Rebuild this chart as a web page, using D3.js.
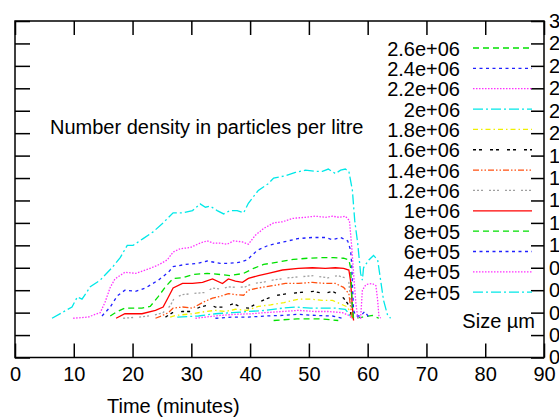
<!DOCTYPE html>
<html>
<head>
<meta charset="utf-8">
<script src="https://cdn.jsdelivr.net/npm/d3@7"></script>
<style>
  body { margin: 0; background: #fff; }
  svg { display: block; font-family: 'Liberation Sans', Arial, Helvetica, sans-serif; }
</style>
</head>
<body>
<div id="container"></div>
<script>
// time in minutes, density (in y2 units 0..3)
const xTicks = [0, 10, 20, 30, 40, 50, 60, 70, 80, 90];
const yTicks = [0, 0.2, 0.4, 0.6, 0.8, 1, 1.2, 1.4, 1.6, 1.8, 2, 2.2, 2.4, 2.6, 2.8, 3];

const sizes = ['2.6e+06', '2.4e+06', '2.2e+06', '2e+06', '1.8e+06', '1.6e+06', '1.4e+06',
  '1.2e+06', '1e+06', '8e+05', '6e+05', '4e+05', '2e+05'];

const s26e5 = [[44, 0.33], [48, 0.345], [52, 0.345], [55, 0.33]];
const s24e5 = [[34.1, 0.35], [37.0, 0.36], [39.7, 0.36], [42.6, 0.37], [45.5, 0.375], [48.2, 0.385],
  [51.1, 0.375], [54.0, 0.37], [55.7, 0.35]];
const s22e5 = [[30.7, 0.35], [32.4, 0.36], [34.9, 0.375], [37.5, 0.385], [40.1, 0.39], [42.6, 0.40],
  [45.5, 0.41], [48.2, 0.42], [51.1, 0.41], [53.3, 0.41], [55.7, 0.40], [56.8, 0.375], [57.3, 0.35]];
const s20e5 = [[27.6, 0.36], [31.2, 0.37], [34.1, 0.39], [37.0, 0.40], [39.7, 0.41], [42.6, 0.42],
  [45.5, 0.44], [47.7, 0.45], [50.3, 0.44], [52.3, 0.44], [54.5, 0.44], [56.2, 0.43], [56.8, 0.39], [57.3, 0.35]];
const s18e5 = [[26.4, 0.36], [27.3, 0.375], [30.2, 0.39], [32.4, 0.41], [34.1, 0.42], [35.8, 0.41],
  [37.5, 0.43], [39.5, 0.42], [41.4, 0.455], [43.5, 0.47], [45.8, 0.49], [48.2, 0.52], [50.3, 0.52],
  [52.3, 0.51], [54.0, 0.51], [55.7, 0.47], [56.6, 0.45], [57.1, 0.39], [57.4, 0.35]];
const s16e5 = [[25.6, 0.36], [26.8, 0.40], [28.5, 0.41], [29.8, 0.41], [31.5, 0.45], [33.2, 0.47],
  [34.1, 0.45], [35.5, 0.45], [37.2, 0.48], [38.4, 0.45], [39.7, 0.44], [41.8, 0.50], [44.0, 0.55],
  [46.4, 0.57], [48.6, 0.58], [50.8, 0.59], [52.5, 0.57], [54.0, 0.59], [55.1, 0.56], [55.9, 0.53],
  [56.6, 0.48], [57.1, 0.40], [57.4, 0.35]];
const s14e5 = [[23.9, 0.35], [25.1, 0.375], [26.1, 0.40], [26.9, 0.44], [28.5, 0.45], [30.2, 0.44],
  [31.9, 0.49], [33.6, 0.53], [34.9, 0.545], [36.3, 0.57], [37.5, 0.56], [38.9, 0.555], [39.7, 0.60],
  [41.4, 0.62], [43.8, 0.64], [46.0, 0.66], [48.2, 0.66], [50.6, 0.67], [52.8, 0.66], [54.5, 0.66],
  [55.9, 0.625], [56.8, 0.57], [57.1, 0.45], [57.4, 0.35]];
const s12e5 = [[18.4, 0.35], [21.0, 0.36], [23.4, 0.375], [25.2, 0.40], [26.4, 0.46], [27.1, 0.53],
  [28.5, 0.56], [30.2, 0.57], [32.4, 0.58], [33.6, 0.62], [34.9, 0.61], [36.3, 0.63], [37.8, 0.625],
  [39.2, 0.63], [40.4, 0.66], [42.1, 0.67], [43.8, 0.69], [46.4, 0.71], [48.6, 0.72], [50.8, 0.73],
  [53.2, 0.71], [54.9, 0.73], [56.2, 0.71], [56.8, 0.67], [57.1, 0.51], [57.4, 0.375]];
const s10e5 = [[17.2, 0.35], [18.7, 0.39], [21.6, 0.39], [23.9, 0.42], [25.2, 0.45], [26.1, 0.54],
  [26.9, 0.62], [28.5, 0.66], [30.2, 0.66], [31.9, 0.67], [33.6, 0.70], [35.3, 0.66], [36.3, 0.70],
  [37.5, 0.68], [38.7, 0.67], [39.7, 0.705], [41.4, 0.73], [43.1, 0.75], [45.5, 0.78], [48.2, 0.795],
  [50.6, 0.80], [52.8, 0.795], [54.5, 0.80], [55.9, 0.795], [56.8, 0.78], [57.1, 0.68], [57.4, 0.45],
  [57.6, 0.33]];
const s8e5 = [[16.2, 0.37], [17.4, 0.41], [18.7, 0.44], [21.6, 0.44], [23.0, 0.455], [24.4, 0.545],
  [25.6, 0.63], [26.9, 0.705], [28.5, 0.71], [30.3, 0.74], [32.7, 0.75], [34.9, 0.74], [36.6, 0.73],
  [38.9, 0.75], [40.6, 0.795], [42.3, 0.83], [44.7, 0.85], [47.4, 0.875], [49.8, 0.885], [52.0, 0.89],
  [54.2, 0.89], [55.9, 0.885], [56.8, 0.87], [57.1, 0.80], [57.4, 0.45], [57.6, 0.35], [59.1, 0.36],
  [60.8, 0.375], [61.9, 0.35]];
const s6e5 = [[14.8, 0.37], [16.2, 0.45], [17.4, 0.55], [18.7, 0.60], [20.5, 0.59], [22.2, 0.62],
  [24.4, 0.69], [26.1, 0.76], [26.9, 0.81], [29.0, 0.83], [31.2, 0.84], [32.7, 0.86], [34.9, 0.84],
  [36.6, 0.84], [38.4, 0.85], [39.5, 0.87], [41.2, 0.955], [43.1, 1.0], [45.7, 1.03], [48.1, 1.06],
  [50.6, 1.07], [52.8, 1.07], [54.0, 1.05], [55.4, 1.07], [56.6, 1.04], [57.1, 0.955], [57.3, 0.82],
  [57.4, 0.66], [57.6, 0.42], [58.0, 0.37], [58.8, 0.37], [59.5, 0.41], [60.2, 0.36]];
const s4e5 = [[9.9, 0.35], [12.4, 0.36], [14.5, 0.40], [15.3, 0.49], [16.2, 0.625], [17.0, 0.70],
  [18.7, 0.76], [20.5, 0.75], [22.2, 0.78], [24.2, 0.82], [25.9, 0.87], [26.9, 0.94], [28.1, 0.97],
  [29.8, 0.98], [31.5, 1.02], [32.7, 1.04], [33.7, 1.02], [34.9, 1.02], [36.1, 1.01], [37.2, 1.04],
  [38.7, 1.03], [39.7, 1.01], [40.9, 1.09], [42.3, 1.15], [44.0, 1.20], [45.5, 1.21], [47.2, 1.24],
  [49.4, 1.25], [51.1, 1.26], [52.8, 1.25], [54.0, 1.26], [55.1, 1.25], [56.2, 1.26], [56.9, 1.22],
  [57.3, 0.98], [57.6, 0.75], [58.0, 0.48], [58.3, 0.36], [58.8, 0.35], [59.1, 0.60], [59.7, 0.65],
  [60.8, 0.66], [61.4, 0.64], [61.7, 0.51], [61.9, 0.375], [62.2, 0.35]];
const s2e5 = [[6.3, 0.35], [9.7, 0.45], [10.6, 0.54], [11.4, 0.52], [12.8, 0.63], [14.5, 0.69],
  [16.5, 0.80], [17.9, 0.89], [19.1, 1.0], [20.1, 1.0], [21.8, 1.06], [23.5, 1.12], [25.2, 1.20],
  [26.9, 1.29], [28.6, 1.29], [30.2, 1.31], [31.5, 1.37], [32.4, 1.34], [33.2, 1.35], [34.4, 1.31],
  [35.5, 1.28], [36.6, 1.31], [37.8, 1.31], [38.9, 1.29], [39.7, 1.375], [41.4, 1.49], [43.1, 1.55],
  [44.0, 1.60], [46.0, 1.62], [47.7, 1.65], [49.4, 1.67], [51.1, 1.66], [52.3, 1.66], [53.3, 1.68],
  [54.5, 1.64], [55.4, 1.67], [56.2, 1.68], [56.8, 1.66], [57.4, 1.49], [57.8, 1.22], [58.3, 1.02],
  [58.8, 0.75], [59.1, 0.69], [59.3, 0.80], [60.2, 0.87], [61.0, 0.91], [61.7, 0.87], [62.2, 0.69],
  [62.7, 0.51], [63.4, 0.375], [63.9, 0.35]];

const series = [s26e5, s24e5, s22e5, s20e5, s18e5, s16e5, s14e5, s12e5, s10e5, s8e5, s6e5, s4e5, s2e5];

// gnuplot-ish line types, same order as the key
const lineTypes = [
  { color: '#00e000', dash: '6,4' },
  { color: '#2020ff', dash: '3,3.5' },
  { color: '#ff30ff', dash: '1.5,1.5' },
  { color: '#00e8e8', dash: '10,3,2,3' },
  { color: '#f0f000', dash: '5,3,1.5,3' },
  { color: '#000000', dash: '3,3,3,8' },
  { color: '#ff5010', dash: '6,2,1.5,2,1.5,2' },
  { color: '#a0a0a0', dash: '2,2,2,2,2,6' },
  { color: '#ff0000', dash: null },
  { color: '#00e000', dash: '6,4' },
  { color: '#2020ff', dash: '3,3.5' },
  { color: '#ff30ff', dash: '1.5,1.5' },
  { color: '#00e8e8', dash: '10,3,2,3' },
];

const width = 559;
const height = 417;

const svg = d3.select('#container')
  .append('svg')
  .attr('width', width)
  .attr('height', height);

const x = d3.scaleLinear().domain([0, 90]).range([15, 544]);
const y = d3.scaleLinear().domain([0, 3]).range([357.5, 21]);

const line = d3.line()
  .x(d => x(d[0]))
  .y(d => y(d[1]));

// curves
svg.append('g')
  .selectAll('path')
  .data(series)
  .enter()
  .append('path')
  .attr('d', line)
  .attr('fill', 'none')
  .attr('stroke', (d, i) => lineTypes[i].color)
  .attr('stroke-width', 1.3)
  .attr('stroke-dasharray', (d, i) => lineTypes[i].dash);

// axes, ticks pointing inward
function styleAxis(g, labels) {
  g.select('.domain').remove();
  g.selectAll('.tick line').attr('stroke', '#000').attr('stroke-width', 1.5);
  g.attr('font-size', 20).attr('font-family', null);
  g.selectAll('.tick text').attr('fill', '#000');
}

svg.append('g')
  .attr('transform', `translate(0,${y(0)})`)
  .call(d3.axisBottom(x).tickValues(xTicks).tickSizeInner(-14).tickSizeOuter(0).tickPadding(9))
  .call(styleAxis);

svg.append('g')
  .attr('transform', `translate(0,${y(3)})`)
  .call(d3.axisTop(x).tickValues(xTicks).tickSizeInner(-14).tickSizeOuter(0).tickFormat(''))
  .call(styleAxis);

svg.append('g')
  .attr('transform', `translate(${x(0)},0)`)
  .call(d3.axisLeft(y).tickValues(yTicks).tickSizeInner(-15).tickSizeOuter(0).tickFormat(''))
  .call(styleAxis);

svg.append('g')
  .attr('transform', `translate(${x(90)},0)`)
  .call(d3.axisRight(y).tickValues(yTicks).tickSizeInner(-13).tickSizeOuter(0).tickPadding(5)
    .tickFormat(d3.format('~g')))
  .call(styleAxis);

svg.append('rect')
  .attr('x', x(0))
  .attr('y', y(3))
  .attr('width', x(90) - x(0))
  .attr('height', y(0) - y(3))
  .attr('fill', 'none')
  .attr('stroke', '#000')
  .attr('stroke-width', 1.5);

// key
const key = svg.append('g')
  .selectAll('g')
  .data(sizes)
  .enter()
  .append('g')
  .attr('transform', (d, i) => `translate(0,${48 + i * 20.35})`);

key.append('text')
  .attr('x', 460)
  .attr('y', 7.5)
  .attr('text-anchor', 'end')
  .attr('font-size', 20)
  .text(d => d);

key.append('line')
  .attr('x1', 473)
  .attr('x2', 532)
  .attr('stroke', (d, i) => lineTypes[i].color)
  .attr('stroke-width', 1.3)
  .attr('stroke-dasharray', (d, i) => lineTypes[i].dash);

svg.append('text')
  .attr('x', 535)
  .attr('y', 328)
  .attr('text-anchor', 'end')
  .attr('font-size', 20)
  .text('Size µm');

svg.append('text')
  .attr('x', 50)
  .attr('y', 133.5)
  .attr('font-size', 20)
  .text('Number density in particles per litre');

svg.append('text')
  .attr('x', 107)
  .attr('y', 413)
  .attr('font-size', 20)
  .text('Time (minutes)');
</script>
</body>
</html>
